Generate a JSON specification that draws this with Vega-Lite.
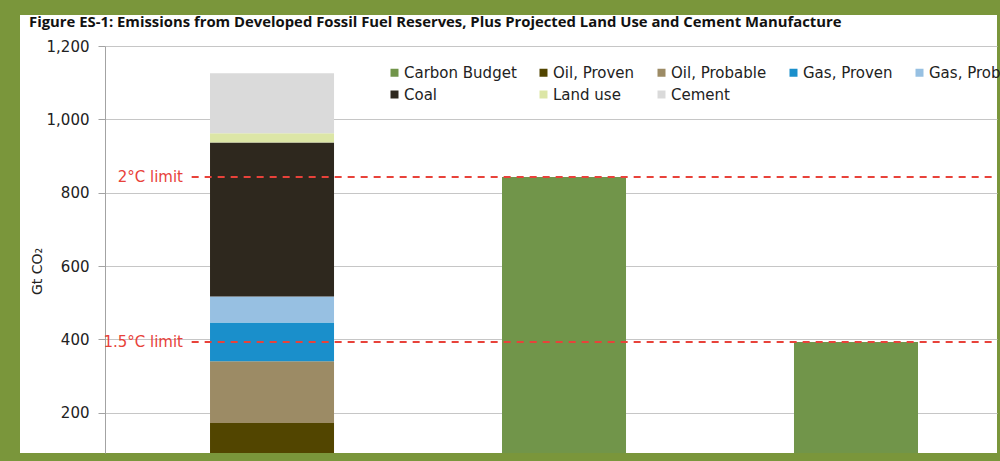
{
  "$schema": "https://vega.github.io/schema/vega-lite/v6.json",
  "width": 977,
  "height": 438,
  "autosize": {"type": "none"},
  "padding": {"left": 20, "top": 15, "right": 3, "bottom": 8},
  "background": "#7a963b",
  "config": {
    "view": {"fill": "white", "stroke": null},
    "font": "DejaVu Sans"
  },
  "title": {
    "text": "Figure ES-1: Emissions from Developed Fossil Fuel Reserves, Plus Projected Land Use and Cement Manufacture",
    "anchor": "start",
    "frame": "group",
    "orient": "top",
    "offset": -27,
    "baseline": "alphabetic",
    "dx": 9,
    "font": "Open Sans",
    "fontSize": 14.85,
    "fontWeight": "bold",
    "color": "#111111"
  },
  "datasets": {
    "bars": [
      {"cat": "Developed Reserves", "series": "Oil, Proven", "value": 172, "rank": 1},
      {"cat": "Developed Reserves", "series": "Oil, Probable", "value": 168, "rank": 2},
      {"cat": "Developed Reserves", "series": "Gas, Proven", "value": 106, "rank": 3},
      {"cat": "Developed Reserves", "series": "Gas, Probable", "value": 71, "rank": 4},
      {"cat": "Developed Reserves", "series": "Coal", "value": 420, "rank": 5},
      {"cat": "Developed Reserves", "series": "Land use", "value": 25, "rank": 6},
      {"cat": "Developed Reserves", "series": "Cement", "value": 164, "rank": 7},
      {"cat": "2°C Budget", "series": "Carbon Budget", "value": 843, "rank": 1},
      {"cat": "1.5°C Budget", "series": "Carbon Budget", "value": 393, "rank": 1}
    ],
    "limits": [
      {"label": "2°C limit", "value": 843},
      {"label": "1.5°C limit", "value": 393}
    ]
  },
  "layer": [
    {
      "data": {"name": "bars"},
      "mark": {"type": "bar", "clip": true},
      "encoding": {
        "x": {
          "field": "cat",
          "type": "nominal",
          "scale": {
            "domain": ["Developed Reserves", "2°C Budget", "1.5°C Budget"],
            "range": [85, 977],
            "paddingInner": 0.5753,
            "paddingOuter": 0.3151,
            "align": 0.5707
          },
          "axis": null
        },
        "y": {
          "field": "value",
          "type": "quantitative",
          "stack": "zero",
          "scale": {"domain": [90, 1200], "range": [438, 31], "zero": false, "nice": false},
          "axis": {
            "orient": "left",
            "offset": -85,
            "values": [200, 400, 600, 800, 1000, 1200],
            "format": ",d",
            "grid": true,
            "gridColor": "#c6c6c6",
            "gridWidth": 1,
            "domainColor": "#a3a3a3",
            "tickColor": "#a3a3a3",
            "tickSize": 7,
            "labelFontSize": 15,
            "labelColor": "#222222",
            "labelPadding": 9,
            "title": "Gt CO₂",
            "titleFontSize": 14,
            "titleFontWeight": "normal",
            "titleColor": "#222222",
            "titleX": -68,
            "titleY": 256,
            "titleAngle": 270,
            "titleAlign": "center",
            "titleBaseline": "middle"
          }
        },
        "color": {
          "field": "series",
          "type": "nominal",
          "scale": {
            "domain": ["Carbon Budget", "Oil, Proven", "Oil, Probable", "Gas, Proven", "Gas, Probable", "Coal", "Land use", "Cement"],
            "range": ["#71954a", "#524500", "#9c8b65", "#1a8fcb", "#97c0e2", "#2e281e", "#dce6a6", "#dadada"]
          },
          "legend": {
            "orient": "none",
            "direction": "horizontal",
            "legendX": 367,
            "legendY": 50,
            "columns": 5,
            "gridAlign": "each",
            "columnPadding": 19,
            "rowPadding": 6,
            "symbolType": "square",
            "symbolSize": 64,
            "symbolStrokeWidth": 0,
            "symbolOpacity": 1,
            "labelFontSize": 15,
            "labelColor": "#222222",
            "labelOffset": 2,
            "labelLimit": 300,
            "padding": 0,
            "title": null
          }
        },
        "order": {"field": "rank", "type": "quantitative"}
      }
    },
    {
      "data": {"name": "limits"},
      "mark": {"type": "rule", "color": "#e8423a", "strokeWidth": 2, "strokeDash": [7, 6]},
      "encoding": {
        "y": {"field": "value", "type": "quantitative"},
        "x": {"datum": "Developed Reserves", "bandPosition": -0.148},
        "x2": {"value": {"expr": "width"}}
      }
    },
    {
      "data": {"name": "limits"},
      "mark": {"type": "text", "color": "#e8423a", "align": "right", "baseline": "middle", "fontSize": 15},
      "encoding": {
        "y": {"field": "value", "type": "quantitative"},
        "x": {"datum": "Developed Reserves", "bandPosition": -0.218},
        "text": {"field": "label"}
      }
    }
  ]
}
